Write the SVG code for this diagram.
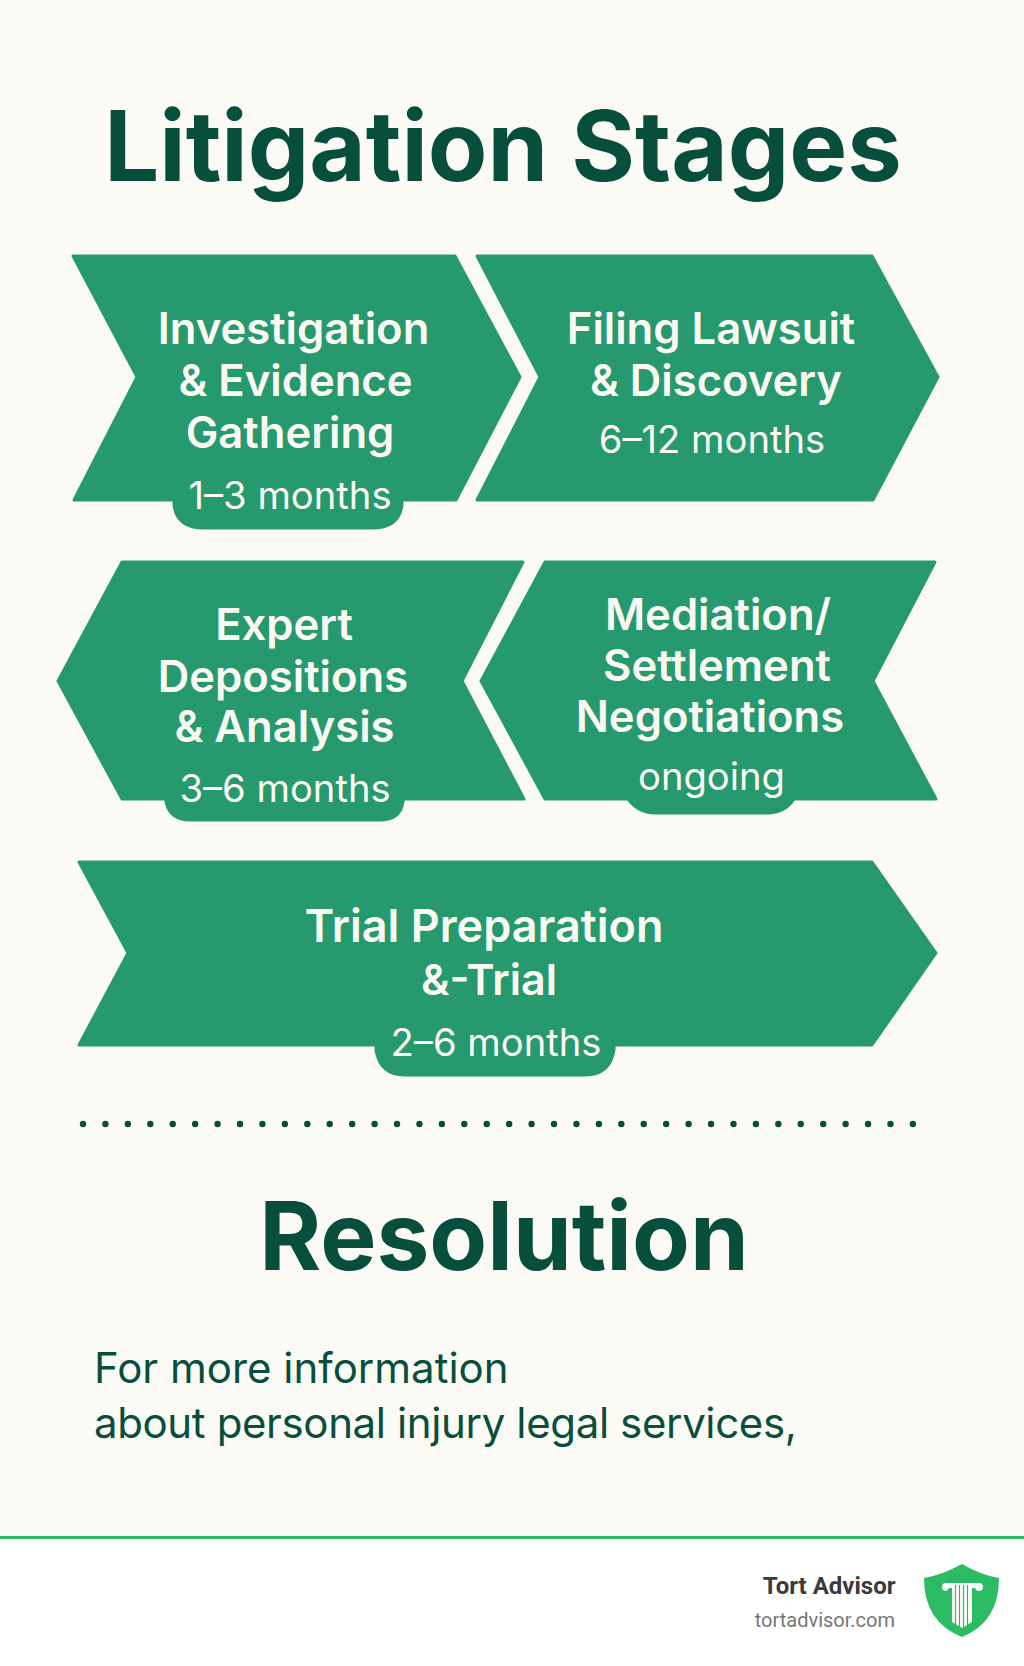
<svg xmlns="http://www.w3.org/2000/svg" width="1024" height="1666" viewBox="0 0 1024 1666">
<style>
.sh{fill:#269A6E;stroke:#269A6E;stroke-width:3;stroke-linejoin:round}
text{font-family:Inter,"Liberation Sans",sans-serif}
.t{font-size:43.6px;font-weight:600;fill:#FCF9F3;text-anchor:middle}
.d{font-size:38.2px;font-weight:400;fill:#FCF9F3;text-anchor:middle}
.h{font-weight:700;fill:#074F3C;text-anchor:middle}
.b{font-size:42px;font-weight:400;fill:#074F3C}
</style>
<rect width="1024" height="1666" fill="#FCFAF4"/>
<text id="title" class="h" x="503" y="181" font-size="97.4">Litigation Stages</text>
<g id="stage1">
<path class="sh" d="M73 256H455L520 377L456 500H74L137 377Z"/>
<path class="sh" d="M174 500V504Q176 528 204 528H372Q400 528 402 504V500Z"/>
<text class="t" x="293.500" y="344">Investigation</text>
<text class="t" x="295.500" y="396">&amp; Evidence</text>
<text class="t" x="290" y="448">Gathering</text>
<text class="d" x="290" y="509">1–3 months</text>
</g>
<g id="stage2">
<path class="sh" d="M477 256H872L938 377L873 500H477L540 377Z"/>
<text class="t" x="711" y="344">Filing Lawsuit</text>
<text class="t" x="716" y="396">&amp; Discovery</text>
<text class="d" x="712" y="453">6–12 months</text>
</g>
<g id="stage3">
<path class="sh" d="M122 562H523L462 681L524 799H122L58 681Z"/>
<path class="sh" d="M166 799V802Q170 820 190 820H380Q400 820 403 802V799Z"/>
<text class="t" x="284" y="640">Expert</text>
<text class="t" x="283" y="692">Depositions</text>
<text class="t" x="284.500" y="742">&amp; Analysis</text>
<text class="d" x="285" y="802">3–6 months</text>
</g>
<g id="stage4">
<path class="sh" d="M545 562H935L873 681L936 799H545L481 681Z"/>
<path class="sh" d="M628 799Q638 813 655 813H767Q785 813 794 799Z"/>
<text class="t" x="718" y="630">Mediation/</text>
<text class="t" x="717" y="681">Settlement</text>
<text class="t" x="710" y="732">Negotiations</text>
<text class="d" x="711.500" y="790">ongoing</text>
</g>
<g id="stage5">
<path class="sh" d="M79 862H872L936 953L872 1045H79L128 953Z"/>
<path class="sh" d="M376 1045V1050Q380 1075 405 1075H585Q610 1075 614 1050V1045Z"/>
<text class="t" x="484" y="942" style="font-size:45px">Trial Preparation</text>
<text class="t" x="489" y="995" style="font-size:43px">&amp;-Trial</text>
<text class="d" x="496" y="1056">2–6 months</text>
</g>
<line id="dots" x1="83" y1="1124" x2="913" y2="1124" stroke="#074F3C" stroke-width="6.400" stroke-linecap="round" stroke-dasharray="0 22.43"/>
<text id="resolution" class="h" x="504" y="1270" font-size="94.500">Resolution</text>
<g id="body">
<text class="b" x="94" y="1383">For more information</text>
<text class="b" x="94" y="1438" letter-spacing="-.37">about personal injury legal services,</text>
</g>
<g id="footer">
<rect y="1538" width="1024" height="128" fill="#FFFFFF"/>
<rect y="1536" width="1024" height="3" fill="#2BBB63"/>
<text x="895.500" y="1594" text-anchor="end" font-size="24" font-weight="700" fill="#3A3A3A" style="font-family:Roboto,sans-serif">Tort Advisor</text>
<text x="895" y="1627" text-anchor="end" font-size="20" fill="#777777" style="font-family:Roboto,sans-serif">tortadvisor.com</text>
<path d="M962 1564Q942 1575 924 1578Q924 1622 962 1637Q999 1622 999 1578Q981 1575 962 1564Z" fill="#2BBB63"/>
<path d="M946 1583H979A4 4 0 0 1 979 1591Q976 1591 975 1588H972V1622L962 1628L952 1622V1588H949Q948 1591 946 1591A4 4 0 0 1 946 1583Z" fill="#FFFFFF"/>
<path d="M955.500 1585V1625M959.500 1585V1627M963.500 1585V1627M967.500 1585V1625" stroke="#2BBB63" stroke-width="1.200"/>
</g>
</svg>
